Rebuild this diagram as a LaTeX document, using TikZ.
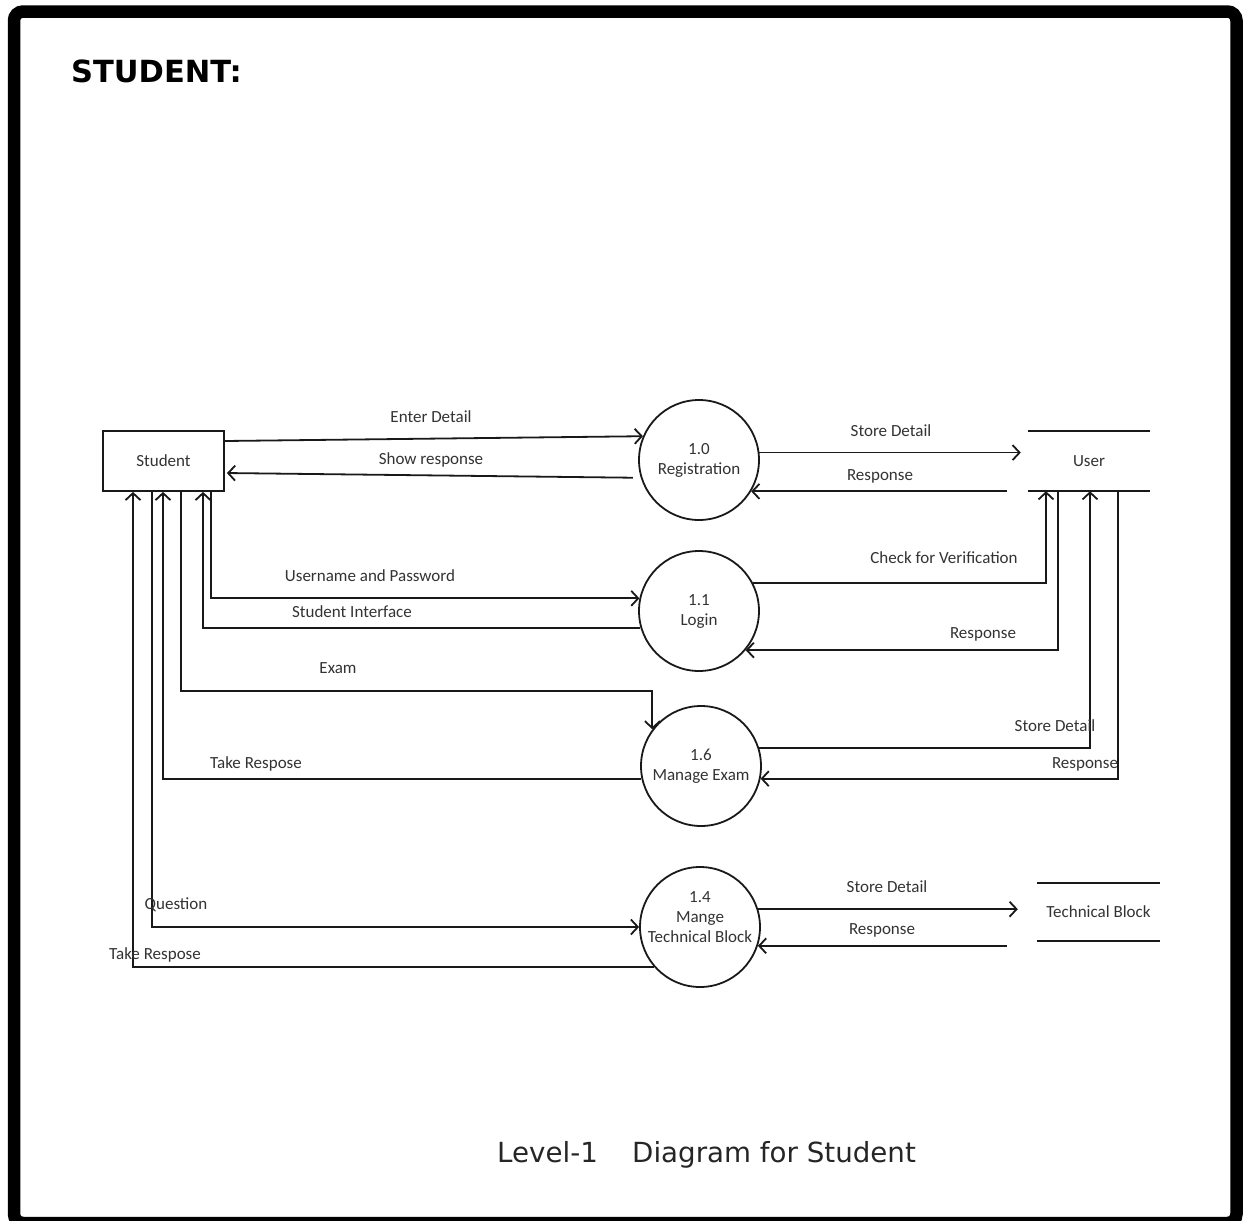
\documentclass[tikz,border=0pt]{standalone}
\usepackage{fontspec}
\setmainfont{Carlito}
\newfontfamily\headfont{DejaVu Sans}
\usetikzlibrary{arrows.meta}

\begin{document}
\begin{tikzpicture}[x=1pt,y=-1pt,
  ink/.style={draw=black!90, line width=1.8pt},
  flow/.style={ink, -{Straight Barb[length=7pt,width=15pt,line width=1.8pt]}},
  lbl/.style={inner sep=0pt, text=black!80, font=\fontsize{17}{20}\selectfont},
  proc/.style={circle, ink, minimum size=120pt, inner sep=0pt, align=center,
               text=black!80, font=\fontsize{17}{20}\selectfont},
  proctext/.style={inner sep=0pt, align=center, text=black!80, font=\fontsize{17}{20}\selectfont},
  entity/.style={rectangle, ink, minimum width=121pt, minimum height=60pt,
                 inner sep=0pt, text=black!80, font=\fontsize{17}{20}\selectfont},
  store/.style={rectangle, minimum width=122pt, minimum height=60pt,
                inner sep=0pt, text=black!80, font=\fontsize{17}{20}\selectfont}
]
\useasboundingbox (0,0) rectangle (1248,1221);
\fill[white] (0,0) rectangle (1248,1221);

% page frame
\draw[line width=12.5pt, rounded corners=9pt] (14,11.5) rectangle (1236.5,1223);

% headings
\node[anchor=base west, inner sep=0pt, font=\headfont\bfseries\fontsize{30.5}{36}\selectfont] (title) at (71,82) {STUDENT:};
\node[anchor=base west, inner sep=0pt, text=black!85, font=\headfont\fontsize{27.7}{33}\selectfont] (lvl) at (497,1162) {Level-1};
\node[anchor=base west, inner sep=0pt, text=black!85, font=\headfont\fontsize{27.7}{33}\selectfont] (cap) at (632,1162) {Diagram for Student};

% external entity, processes, data stores
\node[entity] (student) at (163.5,461) {Student};
\node[proc] (p10) at (699,460) {1.0\\Registration};
\node[proc] (p11) at (699,611) {1.1\\Login};
\node[proc] (p16) at (701,766) {1.6\\Manage Exam};
\node[proc] (p14) at (700,927) {};
\node[proctext] (p14t) at ([yshift=10pt]p14.center) {1.4\\Mange\\Technical Block};
\node[store] (user) at (1089,461) {User};
\node[store, minimum width=123pt, minimum height=58pt] (tech) at (1098.5,912) {Technical Block};
\draw[ink] (user.north west) -- (user.north east);
\draw[ink] (user.south west) -- (user.south east);
\draw[ink] (tech.north west) -- (tech.north east);
\draw[ink] (tech.south west) -- (tech.south east);

% registration
\draw[flow] ([yshift=20pt]student.east) -- (p10.157);
\draw[flow, shorten <=8pt, shorten >=2pt] (p10.197) -- ([yshift=-12pt]student.east);
\draw[flow, shorten >=7pt] (p10.7) -- (p10.7 -| user.west);
\draw[flow, shorten <=21pt] (user.west |- p10.-31) -- (p10.-31);

% login
\draw[flow] ([xshift=47.5pt]student.south) |- (p11.168.5);
\draw[flow] (p11.196.5) -| ([xshift=39.5pt]student.south);
\draw[flow] (p11.27.8) -| ([xshift=-43pt]user.south);
\draw[flow] ([xshift=-31pt]user.south) |- (p11.-40.5);

% manage exam
\coordinate (exambend) at ([yshift=38pt]p16.143.5);
\draw[flow] ([xshift=17.5pt]student.south) |- (exambend) -- (p16.143.5);
\draw[flow] (p16.192.5) -| ([xshift=-0.5pt]student.south);
\draw[flow] (p16.17.5) -| ([xshift=1pt]user.south);
\draw[flow] ([xshift=29pt]user.south) |- (p16.-12.5);

% manage technical block
\draw[flow] ([xshift=-11.5pt]student.south) |- (p14.180);
\draw[flow] (p14.221.8) -| ([xshift=-30.5pt]student.south);
\draw[flow, shorten >=19pt] (p14.17.5) -- (p14.17.5 -| tech.west);
\draw[flow, shorten <=30pt] (tech.west |- p14.-18.5) -- (p14.-18.5);

% flow labels
\node[lbl] (l1) at (431,417) {Enter Detail};
\node[lbl] (l2) at (431,460) {Show response};
\node[lbl] (l3) at (891,431) {Store Detail};
\node[lbl] (l4) at (880,476) {Response};
\node[lbl] (l5) at (370,576) {Username and Password};
\node[lbl] (l6) at (352,612) {Student Interface};
\node[lbl] (l7) at (944,558) {Check for Verification};
\node[lbl] (l8) at (983,634) {Response};
\node[lbl] (l9) at (338,668) {Exam};
\node[lbl] (l10) at (1055,726) {Store Detail};
\node[lbl] (l11) at (256,764) {Take Respose};
\node[lbl] (l12) at (1085,764) {Response};
\node[lbl] (l13) at (176,905) {Question};
\node[lbl] (l14) at (155,955) {Take Respose};
\node[lbl] (l15) at (887,887) {Store Detail};
\node[lbl] (l16) at (882,930) {Response};
\end{tikzpicture}
\end{document}
